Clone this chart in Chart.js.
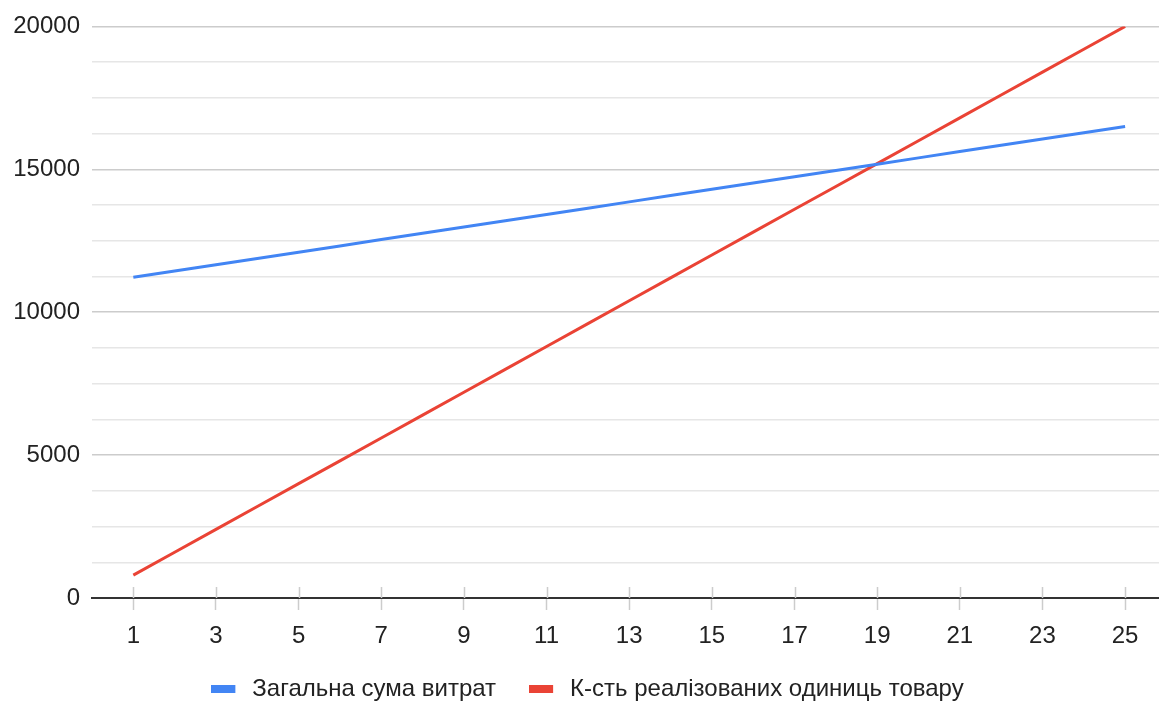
<!DOCTYPE html>
<html>
<head>
<meta charset="utf-8">
<script src="https://cdn.jsdelivr.net/npm/chart.js@4.4.1/dist/chart.umd.min.js"></script>
<style>
  html, body { margin: 0; padding: 0; background: #ffffff; overflow: hidden; }
  #wrap { width: 1159px; height: 704px; position: relative; }
</style>
</head>
<body>
<div id="wrap"><canvas id="chart" width="1159" height="704"></canvas></div>
<script>
// Units sold (x) and the two series plotted against them
const units = [1, 2, 3, 4, 5, 6, 7, 8, 9, 10, 11, 12, 13, 14, 15, 16, 17, 18, 19, 20, 21, 22, 23, 24, 25];
const totalCosts = [11220, 11440, 11660, 11880, 12100, 12320, 12540, 12760, 12980, 13200, 13420, 13640, 13860, 14080, 14300, 14520, 14740, 14960, 15180, 15400, 15620, 15840, 16060, 16280, 16500];
const revenue = [800, 1600, 2400, 3200, 4000, 4800, 5600, 6400, 7200, 8000, 8800, 9600, 10400, 11200, 12000, 12800, 13600, 14400, 15200, 16000, 16800, 17600, 18400, 19200, 20000];
const xTickValues = [1, 3, 5, 7, 9, 11, 13, 15, 17, 19, 21, 23, 25];
const yLabelValues = [0, 5000, 10000, 15000, 20000];
const seriesNames = ['Загальна сума витрат', 'К-сть реалізованих одиниць товару'];
const seriesColors = ['#4285F4', '#EA4335'];

const FONT = 'Arial, "Liberation Sans", sans-serif';
const TEXT = '#222222';
const X_AXIS_HEIGHT = 55;
const LEGEND_HEIGHT = 51;
const LEGEND_SHIFT = -9;
const LEGEND_INSET_LEFT = 16;
const SWATCH_W = 24, SWATCH_H = 8, SWATCH_SLOT = 29;

// Legend swatch: a flat bar on the left of a slightly wider transparent slot
function makeSwatch(color) {
  const c = document.createElement('canvas');
  c.width = SWATCH_SLOT;
  c.height = SWATCH_H;
  const g = c.getContext('2d');
  g.fillStyle = color;
  g.fillRect(0, 0, SWATCH_W, SWATCH_H);
  return c;
}

// Short tick marks that cross the baseline at each labelled x value
const crossTicks = {
  id: 'crossTicks',
  beforeDatasetsDraw(chart) {
    const x = chart.scales.x, y = chart.scales.y;
    const base = y.getPixelForValue(0);
    const ctx = chart.ctx;
    ctx.save();
    ctx.strokeStyle = '#cccccc';
    ctx.lineWidth = 1.5;
    ctx.beginPath();
    xTickValues.forEach(v => {
      const px = Math.round(x.getPixelForValue(v)) + 0.5;
      ctx.moveTo(px, base - 11);
      ctx.lineTo(px, base);
    });
    ctx.stroke();
    ctx.restore();
  }
};

// Fixed height for the legend band at the bottom, with its row nudged into place
const legendBand = {
  id: 'legendBand',
  afterInit(chart) {
    const lg = chart.legend;
    if (!lg) return;
    const fit = lg.fit.bind(lg);
    lg.fit = function () {
      fit();
      this.height = LEGEND_HEIGHT;
      this.bottom = this.top + LEGEND_HEIGHT;
    };
  },
  afterLayout(chart) {
    const lg = chart.legend;
    if (!lg) return;
    lg.top += LEGEND_SHIFT;
    lg.height = lg.bottom - lg.top;
    lg.left += LEGEND_INSET_LEFT;
    lg.width = lg.right - lg.left;
  }
};

const datasets = seriesNames.map((name, i) => ({
  label: name,
  data: units.map((u, j) => ({ x: u, y: (i === 0 ? totalCosts : revenue)[j] })),
  borderColor: seriesColors[i],
  backgroundColor: seriesColors[i],
  borderWidth: 3,
  pointRadius: 0,
  pointStyle: makeSwatch(seriesColors[i]),
  tension: 0
}));

new Chart(document.getElementById('chart'), {
  type: 'line',
  data: { datasets },
  options: {
    responsive: false,
    animation: false,
    layout: { padding: { top: 25, right: 0, bottom: 0, left: 0 } },
    plugins: {
      tooltip: { enabled: false },
      legend: {
        position: 'bottom',
        labels: {
          usePointStyle: true,
          pointStyleWidth: SWATCH_SLOT,
          boxHeight: SWATCH_H,
          padding: 33,
          color: TEXT,
          font: { family: FONT, size: 24 }
        }
      }
    },
    scales: {
      x: {
        type: 'linear',
        min: 0,
        max: 25.82,
        afterBuildTicks(scale) {
          scale.ticks = xTickValues.map(v => ({ value: v }));
        },
        afterFit(scale) { scale.height = X_AXIS_HEIGHT; },
        ticks: {
          autoSkip: false,
          maxRotation: 0,
          padding: 12,
          color: TEXT,
          font: { family: FONT, size: 24 },
          callback: v => String(v)
        },
        grid: {
          drawOnChartArea: false,
          drawTicks: true,
          tickLength: 12,
          tickColor: '#cccccc',
          tickWidth: 1.5
        },
        border: { display: true, color: '#333333', width: 2 }
      },
      y: {
        min: 0,
        max: 20000,
        afterFit(scale) { scale.width = 92; },
        ticks: {
          stepSize: 1250,
          autoSkip: false,
          padding: 12,
          color: TEXT,
          font: { family: FONT, size: 24 },
          callback: v => (yLabelValues.includes(v) ? String(v) : '')
        },
        grid: {
          drawTicks: false,
          lineWidth: 1.5,
          color: ctx => {
            const v = ctx.tick ? ctx.tick.value : 0;
            if (v === 0) return 'rgba(0,0,0,0)';
            return v % 5000 === 0 ? '#cccccc' : '#e6e6e6';
          }
        },
        border: { display: false }
      }
    }
  },
  plugins: [crossTicks, legendBand]
});
</script>
</body>
</html>
